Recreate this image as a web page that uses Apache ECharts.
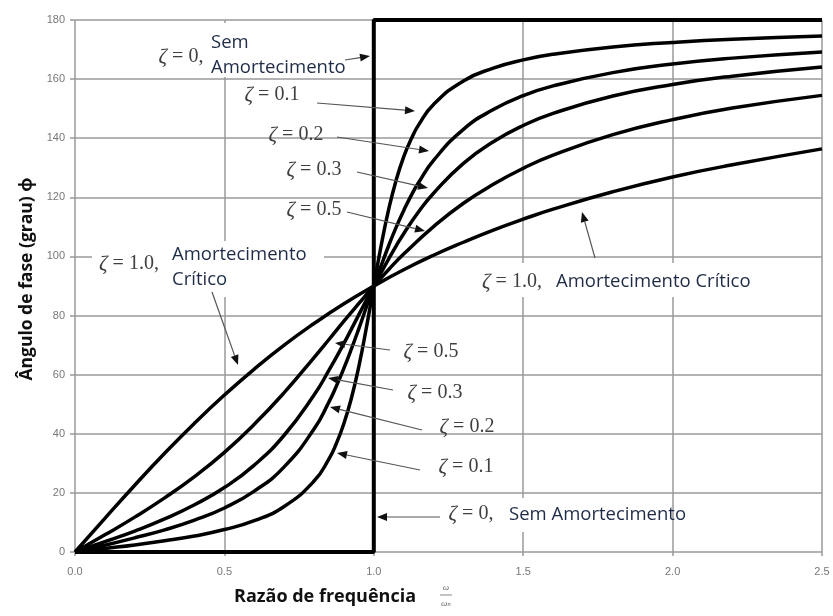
<!DOCTYPE html>
<html><head><meta charset="utf-8">
<script src="https://cdn.jsdelivr.net/npm/echarts@6/dist/echarts.min.js"></script>
<style>html,body{margin:0;padding:0;background:#fff}#c{width:833px;height:616px}</style>
</head><body><div id="c"></div>
<script>
// ---- data ----
const xTicks = ['0.0','0.5','1.0','1.5','2.0','2.5'];
const yTicks = [0,20,40,60,80,100,120,140,160,180];

const ratioZ0 = [0, 1, 1, 2.5];
const phaseZ0 = [0, 0, 180, 180];

const ratioZ01 = [0,0.1,0.2,0.3,0.4,0.5,0.6,0.7,0.8,0.85,0.875,0.9,0.925,0.95,0.975,1.0,1.025,1.05,1.075,1.1,1.125,1.15,1.2,1.3,1.4,1.5,1.6,1.8,2.0,2.2,2.5];
const phaseZ01 = [0,1.2,2.4,3.8,5.4,7.6,10.6,15.4,24.0,31.5,36.8,43.5,52.0,62.8,75.8,90,103.9,116.0,125.9,133.7,139.7,144.5,151.4,159.4,163.7,166.5,168.4,170.9,172.4,173.5,174.6];

const ratioZ02 = [0,0.1,0.2,0.3,0.4,0.5,0.6,0.7,0.8,0.85,0.875,0.9,0.925,0.95,0.975,1.0,1.025,1.05,1.075,1.1,1.125,1.15,1.2,1.3,1.4,1.5,1.6,1.8,2.0,2.2,2.5];
const phaseZ02 = [0,2.3,4.8,7.5,10.8,14.9,20.6,28.8,41.6,50.8,56.2,62.2,68.7,75.6,82.8,90,97.0,103.7,109.9,115.5,120.6,125.0,132.5,143.0,149.7,154.4,157.7,162.2,165.1,167.1,169.2];

const ratioZ03 = [0,0.1,0.2,0.3,0.4,0.5,0.6,0.7,0.8,0.85,0.9,0.925,0.95,1.0,1.05,1.075,1.1,1.15,1.2,1.3,1.4,1.5,1.6,1.8,2.0,2.2,2.5];
const phaseZ03 = [0,3.5,7.1,11.2,16.0,21.8,29.4,39.5,53.1,61.5,70.6,75.4,80.3,90,99.2,103.6,107.7,115.1,121.4,131.5,138.8,144.3,148.4,154.3,158.2,161.0,164.1];

const ratioZ05 = [0,0.1,0.2,0.3,0.4,0.5,0.6,0.7,0.8,0.85,0.9,0.95,1.0,1.05,1.1,1.2,1.3,1.4,1.5,1.6,1.8,2.0,2.2,2.5];
const phaseZ05 = [0,5.8,11.8,18.3,25.5,33.7,43.2,53.9,65.8,71.9,78.1,84.1,90,95.6,100.8,110.1,118.0,124.4,129.8,134.3,141.2,146.3,150.2,154.5];

const ratioZ10 = [0,0.1,0.2,0.3,0.4,0.5,0.6,0.7,0.8,0.9,1.0,1.1,1.2,1.3,1.4,1.5,1.6,1.8,2.0,2.2,2.5];
const phaseZ10 = [0,11.4,22.6,33.4,43.6,53.1,61.9,70.0,77.3,84.0,90,95.5,100.4,104.8,108.9,112.6,116.0,121.9,126.9,131.0,136.4];

const seriesNames = ['ζ = 0','ζ = 0.1','ζ = 0.2','ζ = 0.3','ζ = 0.5','ζ = 1.0'];
const xTitle = 'Razão de frequência';
const yTitle = 'Ângulo de fase (grau) ϕ';

// ---- chart ----
const pairs = (xs, ys) => xs.map((x, i) => [x, ys[i]]);
const curves = [
  [ratioZ0, phaseZ0], [ratioZ01, phaseZ01], [ratioZ02, phaseZ02],
  [ratioZ03, phaseZ03], [ratioZ05, phaseZ05], [ratioZ10, phaseZ10]
];

const chart = echarts.init(document.getElementById('c'), null, {renderer: 'canvas'});

const serifFont = '"Liberation Serif", "DejaVu Serif", serif';
const noteFont = '"Open Sans", "Noto Sans", sans-serif';
const zColor = '#404040';
const noteColor = '#1f2b47';

function zeta(txt, cx, cy) {
  return {
    type: 'text', x: cx, y: cy, z: 20,
    style: {
      text: '{z|ζ} = ' + txt,
      align: 'center', verticalAlign: 'middle',
      fill: zColor, font: '20px ' + serifFont,
      rich: { z: { font: 'italic 21px ' + serifFont, fill: zColor } }
    }
  };
}
function note(txt, lx, cy) {
  return {
    type: 'text', x: lx, y: cy, z: 20,
    style: {
      text: txt, align: 'left', verticalAlign: 'middle',
      fill: noteColor, font: '18.5px ' + noteFont, lineHeight: 25
    }
  };
}
function box(x, y, w, h) {
  return { type: 'rect', z: 15, shape: {x: x, y: y, width: w, height: h}, style: {fill: '#fff'} };
}
function arrow(x1, y1, x2, y2) {
  const dx = x2 - x1, dy = y2 - y1, L = Math.hypot(dx, dy);
  const ux = dx / L, uy = dy / L, len = 10, hw = 4;
  const bx = x2 - ux * len, by = y2 - uy * len;
  return [
    { type: 'line', z: 21, shape: {x1: x1, y1: y1, x2: bx, y2: by}, style: {stroke: '#555', lineWidth: 1.2} },
    { type: 'polygon', z: 21, shape: {points: [[x2, y2], [bx - uy * hw, by + ux * hw], [bx + uy * hw, by - ux * hw]]}, style: {fill: '#111'} }
  ];
}

const graphics = [
  // white label boxes
  box(150, 23, 200, 54),
  box(236, 81, 75, 28),
  box(277, 199, 72, 26),
  box(92, 241, 232, 56),
  box(500, 498, 110, 34),
  box(470, 263, 285, 34),
  // upper-left labels
  zeta('0,', 181, 57),
  note('Sem\nAmortecimento', 211, 55),
  zeta('0.1', 272, 95),
  zeta('0.2', 296, 135),
  zeta('0.3', 314, 170),
  zeta('0.5', 314, 210),
  zeta('1.0,', 129, 264),
  note('Amortecimento\nCrítico', 172, 267),
  // lower labels
  zeta('0.5', 431, 352),
  zeta('0.3', 435, 393),
  zeta('0.2', 467, 427),
  zeta('0.1', 466, 467),
  zeta('0,', 471, 514),
  note('Sem Amortecimento', 509, 515),
  zeta('1.0,', 512, 282),
  note('Amortecimento Crítico', 556, 282),
  // axis titles
  { type: 'text', x: 27, y: 279, rotation: Math.PI / 2, z: 20,
    style: { text: yTitle, align: 'center', verticalAlign: 'middle', fill: '#111', font: 'bold 17.5px ' + noteFont } },
  { type: 'text', x: 325, y: 597, z: 20,
    style: { text: xTitle, align: 'center', verticalAlign: 'middle', fill: '#111', font: 'bold 18px ' + noteFont } },
  { type: 'text', x: 446, y: 588, z: 20,
    style: { text: 'ω', align: 'center', verticalAlign: 'middle', fill: '#666', font: 'italic 9px ' + serifFont } },
  { type: 'line', z: 20, shape: {x1: 440, y1: 595, x2: 452, y2: 595}, style: {stroke: '#888', lineWidth: 1} },
  { type: 'text', x: 446, y: 604, z: 20,
    style: { text: 'ωₙ', align: 'center', verticalAlign: 'middle', fill: '#666', font: 'italic 9px ' + serifFont } }
].concat(
  arrow(345, 60, 370, 56),
  arrow(317, 103, 415, 111),
  arrow(337, 137, 429, 151),
  arrow(357, 172, 428, 188),
  arrow(347, 212, 425, 231),
  arrow(212, 292, 238, 365),
  arrow(595, 258, 582, 212),
  arrow(390, 350, 335, 343),
  arrow(393, 390, 328, 378),
  arrow(422, 430, 330, 407),
  arrow(420, 470, 337, 453),
  arrow(440, 517, 377, 517)
);

chart.setOption({
  animation: false,
  backgroundColor: '#fff',
  grid: { left: 75, right: 11, top: 20, bottom: 64 },
  xAxis: {
    type: 'value', min: 0, max: 2.5, interval: 0.5,
    axisLine: { show: false },
    axisTick: { show: true, length: 4, lineStyle: { color: '#999', width: 1.5 } },
    axisLabel: { margin: 14, color: '#777', fontSize: 11, fontFamily: '"Liberation Sans", Arial, sans-serif',
      formatter: (v) => xTicks[Math.round(v / 0.5)] },
    splitLine: { show: true, lineStyle: { color: '#9a9a9a', width: 1.5 } }
  },
  yAxis: {
    type: 'value', min: 0, max: 180, interval: 20,
    axisLine: { show: false },
    axisTick: { show: true, length: 5, lineStyle: { color: '#999', width: 1.5 } },
    axisLabel: { margin: 10, color: '#777', fontSize: 11, fontFamily: '"Liberation Sans", Arial, sans-serif',
      formatter: (v) => String(yTicks[Math.round(v / 20)]) },
    splitLine: { show: true, lineStyle: { color: '#9a9a9a', width: 1.5 } }
  },
  series: curves.map((c, i) => ({
    name: seriesNames[i],
    type: 'line',
    data: pairs(c[0], c[1]),
    showSymbol: false,
    symbol: 'none',
    smooth: i === 0 ? false : 0.5,
    clip: false,
    z: 10,
    lineStyle: { color: '#000', width: i === 0 ? 4 : 3.5 }
  })),
  graphic: graphics
});
</script>
</body></html>
